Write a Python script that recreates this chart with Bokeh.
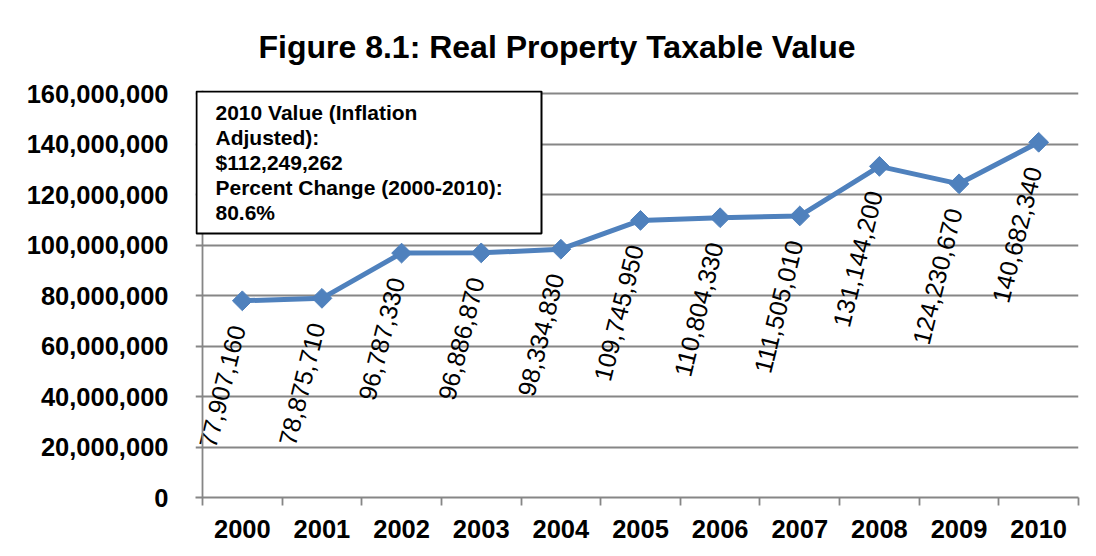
import math
from bokeh.plotting import figure
from bokeh.models import (FixedTicker, NumeralTickFormatter, Label, BoxAnnotation,
                          ColumnDataSource, Range1d, Span)
from bokeh.embed import file_html
from bokeh.resources import INLINE
from bokeh.core.properties import value

# ---------------- data ----------------
years = ["2000", "2001", "2002", "2003", "2004", "2005",
         "2006", "2007", "2008", "2009", "2010"]
taxable_values = [77907160, 78875710, 96787330, 96886870, 98334830, 109745950,
                  110804330, 111505010, 131144200, 124230670, 140682340]
y_ticks = [0, 20000000, 40000000, 60000000, 80000000,
           100000000, 120000000, 140000000, 160000000]
title_text = "Figure 8.1: Real Property Taxable Value"
box_lines = ["2010 Value (Inflation", "Adjusted):", "$112,249,262",
             "Percent Change (2000-2010):", "80.6%"]

FONT = "Liberation Sans"
BLUE = "#4F81BD"
GRAY = "#868686"

# pixel geometry helpers (styling only)
UX = len(years) / 876.0                          # x data units per pixel
UY = (y_ticks[-1] - y_ticks[0]) / 404.0          # y data units per pixel

xs = [i + 0.5 for i in range(len(years))]
src = ColumnDataSource(dict(x=xs, v=taxable_values,
                            lbl=[f"{v:,}" for v in taxable_values]))

p = figure(width=1088, height=548, output_backend="svg", toolbar_location=None,
           x_range=Range1d(-7 * UX, len(years)),
           y_range=Range1d(y_ticks[0], y_ticks[-1] + 3 * UY),
           min_border_left=195, min_border_right=10, min_border_top=90,
           min_border_bottom=51)
p.outline_line_color = None
p.background_fill_color = "white"
p.border_fill_color = "white"

# title
p.title.text = title_text
p.title.text_font = FONT
p.title.text_font_size = "32px"
p.title.text_font_style = "bold"
p.title.text_color = "black"
p.title.align = "left"
p.title.offset = 63
p.title.standoff = 51

# grid
p.xgrid.grid_line_color = None
p.ygrid.grid_line_color = GRAY
p.ygrid.grid_line_width = 1.8

# y axis (line drawn as span at category origin, ticks merge with grid)
p.yaxis.ticker = FixedTicker(ticks=y_ticks)
p.yaxis.formatter = NumeralTickFormatter(format="0,0")
p.yaxis.axis_line_color = None
p.yaxis.major_tick_line_color = None
p.yaxis.major_tick_out = 0
p.yaxis.major_tick_in = 0
p.yaxis.minor_tick_line_color = None
p.yaxis.major_label_text_font = FONT
p.yaxis.major_label_text_font_size = "25.5px"
p.yaxis.major_label_text_font_style = "bold"
p.yaxis.major_label_text_color = "black"
p.yaxis.major_label_standoff = 27
p.add_layout(Span(location=0, dimension="height", line_color=GRAY, line_width=1.8))

# x axis
p.xaxis.ticker = FixedTicker(ticks=xs, minor_ticks=list(range(len(years) + 1)))
p.xaxis.major_label_overrides = {x: y for x, y in zip(xs, years)}
p.xaxis.axis_line_color = GRAY
p.xaxis.axis_line_width = 1.8
p.xaxis.major_tick_line_color = None
p.xaxis.major_tick_out = 0
p.xaxis.major_tick_in = 0
p.xaxis.minor_tick_line_color = GRAY
p.xaxis.minor_tick_line_width = 1.8
p.xaxis.minor_tick_out = 8
p.xaxis.minor_tick_in = 0
p.xaxis.major_label_text_font = FONT
p.xaxis.major_label_text_font_size = "25.5px"
p.xaxis.major_label_text_font_style = "bold"
p.xaxis.major_label_text_color = "black"
p.xaxis.major_label_standoff = 14

# series
p.line("x", "v", source=src, line_color=BLUE, line_width=5)
p.scatter("x", "v", source=src, marker="square", angle=math.pi / 4, size=14,
          fill_color=BLUE, line_color=BLUE)
p.text("x", "v", text="lbl", source=src, angle=math.radians(76),
       text_align="right", text_baseline="middle", x_offset=-5, y_offset=25,
       text_font=value(FONT), text_font_size="25px", text_color="black")

# text box
box = BoxAnnotation(left=-6 * UX, right=339 * UX,
                    top=y_ticks[-1] + 2 * UY,
                    bottom=y_ticks[-1] - 140 * UY,
                    fill_color="white", fill_alpha=1.0,
                    line_color="black", line_alpha=1.0, line_width=2)
p.add_layout(box)
for i, line in enumerate(box_lines):
    p.add_layout(Label(x=13 * UX,
                       y=y_ticks[-1] - (19 + 25 * i) * UY,
                       text=line, text_font=FONT, text_font_size="21px",
                       text_font_style="bold", text_color="black",
                       text_baseline="alphabetic", text_align="left"))

open("out.html", "w").write(file_html(p, INLINE))
